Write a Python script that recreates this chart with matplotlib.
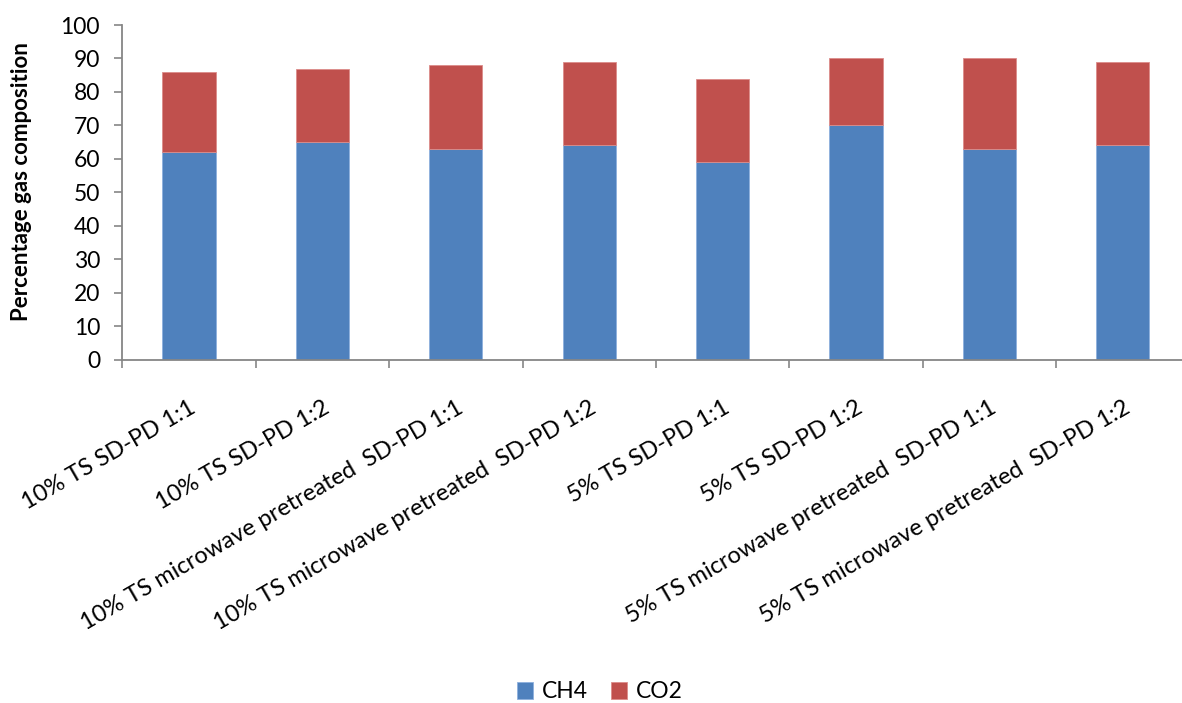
import numpy as np
import matplotlib.pyplot as plt

labels = ["10% TS SD-PD 1:1", "10% TS SD-PD 1:2",
          "10% TS microwave pretreated  SD-PD 1:1",
          "10% TS microwave pretreated  SD-PD 1:2",
          "5% TS SD-PD 1:1", "5% TS SD-PD 1:2",
          "5% TS microwave pretreated  SD-PD 1:1",
          "5% TS microwave pretreated  SD-PD 1:2"]
ch4 = [62, 65, 63, 64, 59, 70, 63, 64]
co2 = [24, 22, 25, 25, 25, 20, 27, 25]

plt.rcParams['font.family'] = ['Lato', 'DejaVu Sans']

W, H = 1182, 703
fig = plt.figure(figsize=(W / 100, H / 100), dpi=100)
# axes runs a little past the right edge of the figure
ax = fig.add_axes([122.3 / W, 1 - 359.7 / H, 1067.2 / W, 334.7 / H])

x = np.arange(len(labels))
blue = '#4F81BD'
red = '#C0504D'
b1 = ax.bar(x, ch4, width=0.4, color=blue, edgecolor='#8DB0DD', linewidth=0.6, label='CH4')
b2 = ax.bar(x, co2, width=0.4, bottom=ch4, color=red, edgecolor='#DC8C8A', linewidth=0.6, label='CO2')

ax.set_xlim(-0.5, len(labels) - 0.5)
ax.set_ylim(0, 100)
ax.set_yticks(range(0, 101, 10))

ax.set_xticks(x)
ax.set_xticklabels(labels, rotation=30, ha='right', va='top', rotation_mode='anchor', fontsize=17)
ax.set_xticks(np.arange(len(labels) + 1) - 0.5, minor=True)
ax.tick_params(axis='x', which='major', length=0, pad=27)
ax.tick_params(axis='x', which='minor', length=6, width=1.2, color='#868686', direction='out')
ax.tick_params(axis='y', length=6, width=1.2, color='#868686', direction='out', labelsize=16.5, pad=10)

for side in ['top', 'right']:
    ax.spines[side].set_visible(False)
for side in ['left', 'bottom']:
    ax.spines[side].set_color('#868686')
    ax.spines[side].set_linewidth(1.3)

fig.text(22 / W, 1 - 182 / H, 'Percentage gas composition', rotation=90,
         ha='center', va='center', fontsize=16, fontweight='bold')

fig.legend(handles=[b1, b2], labels=['CH4', 'CO2'], loc='center',
           bbox_to_anchor=(600 / W, 1 - 692 / H), ncol=2, frameon=False,
           fontsize=16.5, handlelength=0.7, handleheight=0.7, handletextpad=0.4,
           columnspacing=1.0)

fig.savefig('out.png', dpi=100)
